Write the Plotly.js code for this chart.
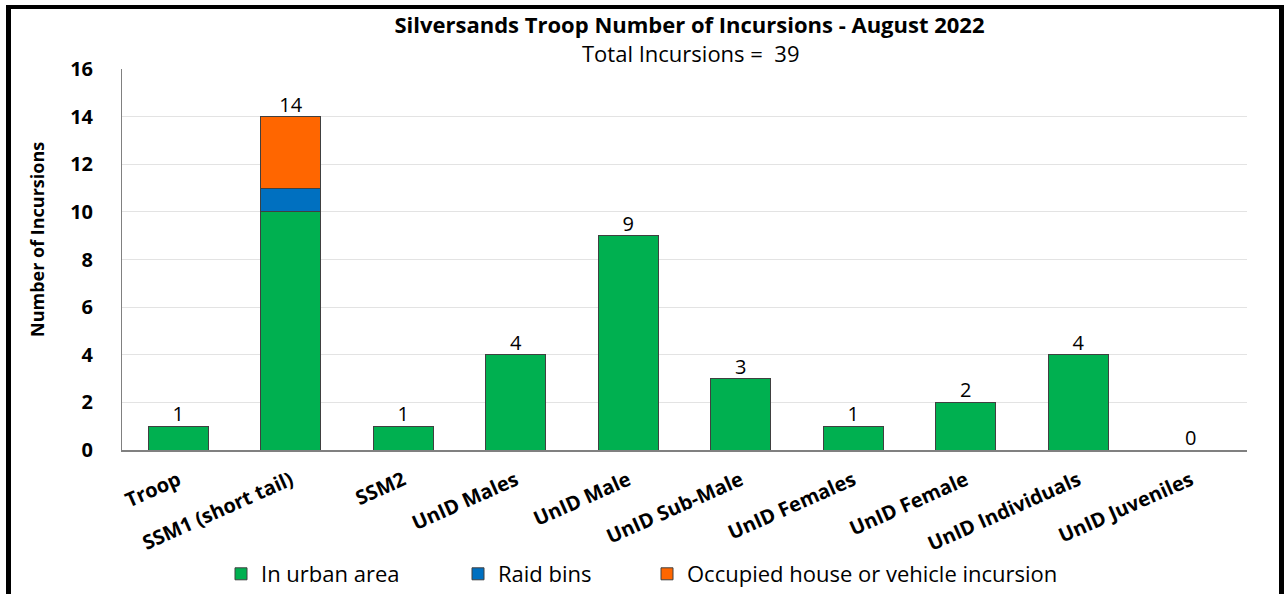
<!DOCTYPE html>
<html><head><meta charset="utf-8">
<script src="https://cdn.plot.ly/plotly-3.0.1.min.js"></script>
<style>
html,body{margin:0;padding:0;background:#fff;}
#wrap{position:relative;width:1284px;height:594px;}
#chart{position:absolute;left:0;top:0;width:1284px;height:594px;}
#frame{position:absolute;left:6px;top:5px;width:1268px;height:587px;border-left:5px solid #000;border-top:4px solid #000;border-right:5px solid #000;border-bottom:1px solid #ccc;pointer-events:none;}
</style></head>
<body><div id="wrap"><div id="chart"></div><div id="frame"></div></div>
<script>
const categories = ["Troop","SSM1 (short tail)","SSM2","UnID Males","UnID Male","UnID Sub-Male","UnID Females","UnID Female","UnID Individuals","UnID Juveniles"];
const urban = [1,10,1,4,9,3,1,2,4,0];
const raid = [0,1,0,0,0,0,0,0,0,0];
const occupied = [0,3,0,0,0,0,0,0,0,0];
const totals = categories.map((c,i)=>urban[i]+raid[i]+occupied[i]);
const grandTotal = totals.reduce((a,b)=>a+b,0);

const FONT = "Open Sans, sans-serif";
const line = {color:'#404040', width:1};
const traces = [
 {type:'bar', name:'In urban area', legend:'legend', x:categories, y:urban, marker:{color:'#00B050', line:line}},
 {type:'bar', name:'Raid bins', legend:'legend2', x:categories, y:raid, marker:{color:'#0070C0', line:line}},
 {type:'bar', name:'Occupied house or vehicle incursion', legend:'legend3', x:categories, y:occupied, marker:{color:'#FF6600', line:line}},
 {type:'scatter', mode:'text', x:categories, y:totals, text:totals.map(String), textposition:'top center', textfont:{family:FONT, size:20, color:'#000'}, showlegend:false, hoverinfo:'skip', cliponaxis:false}
];
function leg(px){
 return {orientation:'h', x:px/1284, xanchor:'left', xref:'container', yref:'container', y:(594-574)/594, yanchor:'middle', font:{family:FONT, size:22, color:'#000'}, bgcolor:'rgba(0,0,0,0)'};
}
const layout = {
 width:1284, height:594,
 margin:{l:122, r:37, t:69, b:144, autoexpand:false},
 barmode:'stack', bargap:0.47,
 paper_bgcolor:'rgba(0,0,0,0)', plot_bgcolor:'#fff',
 font:{family:FONT, color:'#000'},
 title:{text:'<b>Silversands Troop Number of Incursions - August 2022</b>', x:0.537, xanchor:'center', yref:'container', y:1-25/594, yanchor:'middle', font:{family:FONT, size:22, color:'#000'}},
 annotations:[
  {text:'Total Incursions =  '+grandTotal, xref:'paper', yref:'paper', x:(690-122)/1125, y:1+(69-53)/381, xanchor:'center', yanchor:'middle', showarrow:false, font:{family:FONT, size:22, color:'#000'}},
  {text:'<b>Number of Incursions</b>', xref:'paper', yref:'paper', x:(37-122)/1125, y:(450-240)/381, xanchor:'center', yanchor:'middle', textangle:-90, showarrow:false, font:{family:FONT, size:18, color:'#000'}}
 ],
 xaxis:{type:'category', automargin:false, tickangle:-24, tickfont:{family:FONT, size:20, color:'#000', weight:'bold'}, ticklabelstandoff:9, showline:true, linecolor:'#808080', linewidth:2, ticks:'', showgrid:false},
 yaxis:{range:[0,16], dtick:2, automargin:false, tickfont:{family:FONT, size:20, color:'#000', weight:'bold'}, showline:true, linecolor:'#808080', linewidth:1, gridcolor:'#e3e3e3', ticks:'', ticklen:0, ticklabelstandoff:24, zeroline:false},
 legend:leg(221), legend2:leg(458), legend3:leg(647),
 showlegend:true
};
Plotly.newPlot('chart', traces, layout, {displayModeBar:false, staticPlot:true});
</script></body></html>
